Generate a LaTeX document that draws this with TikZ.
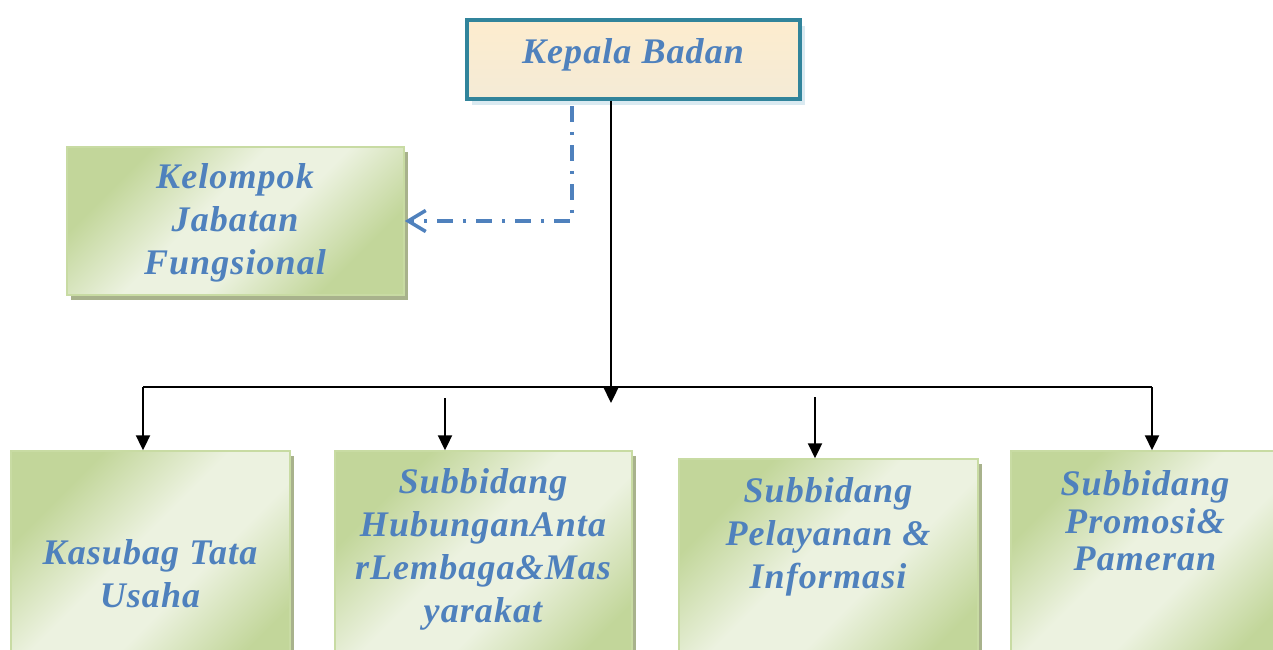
\documentclass[tikz,border=0pt]{standalone}
\usepackage{fontspec}
\setmainfont{Liberation Serif}
\newfontfamily\unitfont[LetterSpace=3]{Liberation Serif}
\usetikzlibrary{arrows.meta,shadows}
\definecolor{unitblue}{RGB}{79,129,189}
\definecolor{headedge}{RGB}{49,132,155}
\definecolor{headtop}{RGB}{253,236,206}
\definecolor{headbot}{RGB}{244,235,214}
\definecolor{headshadow}{RGB}{218,234,241}
\definecolor{grndark}{RGB}{194,214,154}
\definecolor{grnlight}{RGB}{236,242,224}
\definecolor{grnedge}{RGB}{200,219,163}
\definecolor{grnshadow}{RGB}{168,178,140}
\pgfdeclarehorizontalshading{unitshade}{100bp}{color(0bp)=(grndark); color(27bp)=(grndark);
	color(44bp)=(grnlight); color(56bp)=(grnlight); color(73bp)=(grndark); color(100bp)=(grndark)}
\tikzset{
	headbox/.style={draw=headedge,line width=2.2pt,top color=headtop,bottom color=headbot,inner sep=0pt,
		general shadow={fill=headshadow,shadow xshift=0.1cm,shadow yshift=-0.12cm}},
	unitbox/.style={draw=grnedge,line width=0.9pt,shading=unitshade,shading angle=-45,inner sep=0pt,
		general shadow={fill=grnshadow,shadow xshift=0.08cm,shadow yshift=-0.1cm}},
	unittext/.style={text=unitblue,align=center,inner sep=0pt,font=\unitfont\bfseries\itshape\fontsize{20.5}{24.5}\selectfont},
	link/.style={line width=1.1pt,black,-{Triangle[length=8.5pt,width=8pt]}},
	adviser/.style={line width=2pt,unitblue,dash pattern=on 9pt off 5.7pt on 1.8pt off 5.7pt,
		-{Straight Barb[length=10pt,width=12pt]}}
}
\begin{document}
\begin{tikzpicture}[x=0.02cm,y=-0.02cm]
	\useasboundingbox (0,0) rectangle (1273,649);
	\clip (0,0) rectangle (1273,649);
	\node[headbox,minimum width=6.66cm,minimum height=1.58cm] (kepala) at (633.5,59.5) {};
	\node[unitbox,minimum width=6.74cm,minimum height=2.96cm] (jabfung) at (235.5,221) {};
	\node[unitbox,minimum width=5.58cm,minimum height=4.98cm] (tu) at (150.5,575.5) {};
	\node[unitbox,minimum width=5.94cm,minimum height=4.98cm] (hubungan) at (483.5,575.5) {};
	\node[unitbox,minimum width=5.98cm,minimum height=4.82cm] (pelayanan) at (828.5,579.5) {};
	\node[unitbox,minimum width=5.36cm,minimum height=4.98cm] (promosi) at (1145,575.5) {};

	\node[unittext] (kepala-t) at (633,55) {Kepala Badan};
	\node[unittext] (jabfung-t) at (235,223) {Kelompok\\Jabatan\\Fungsional};
	\node[unittext] (tu-t) at (150,574) {Kasubag Tata\\Usaha};
	\node[unittext] (hubungan-t) at (483,549) {Subbidang\\HubunganAnta\\rLembaga\&Mas\\yarakat};
	\node[unittext] (pelayanan-t) at (828,537) {Subbidang\\Pelayanan \&\\Informasi};
	\node[unittext,font=\unitfont\bfseries\itshape\fontsize{20.5}{21.3}\selectfont] (promosi-t) at (1145,521) {Subbidang\\Promosi\&\\Pameran};

	\coordinate (drop) at (611,403);
	\coordinate (busL) at (143,387);
	\coordinate (busR) at (1152,387);
	\coordinate (hubtop) at (445,398);
	\coordinate (peltop) at (815,397);
	\coordinate (advtop) at (572,106);

	\draw[link] (kepala.south -| drop) -- (drop);
	\draw[line width=1.1pt] (busL) -- (busR);
	\draw[link] (busL) -- (busL |- tu.north);
	\draw[link] (hubtop) -- (hubtop |- hubungan.north);
	\draw[link] (peltop) -- (peltop |- pelayanan.north);
	\draw[link] (busR) -- (busR |- promosi.north);
	\draw[adviser] (advtop) |- (jabfung.east);
\end{tikzpicture}
\end{document}
